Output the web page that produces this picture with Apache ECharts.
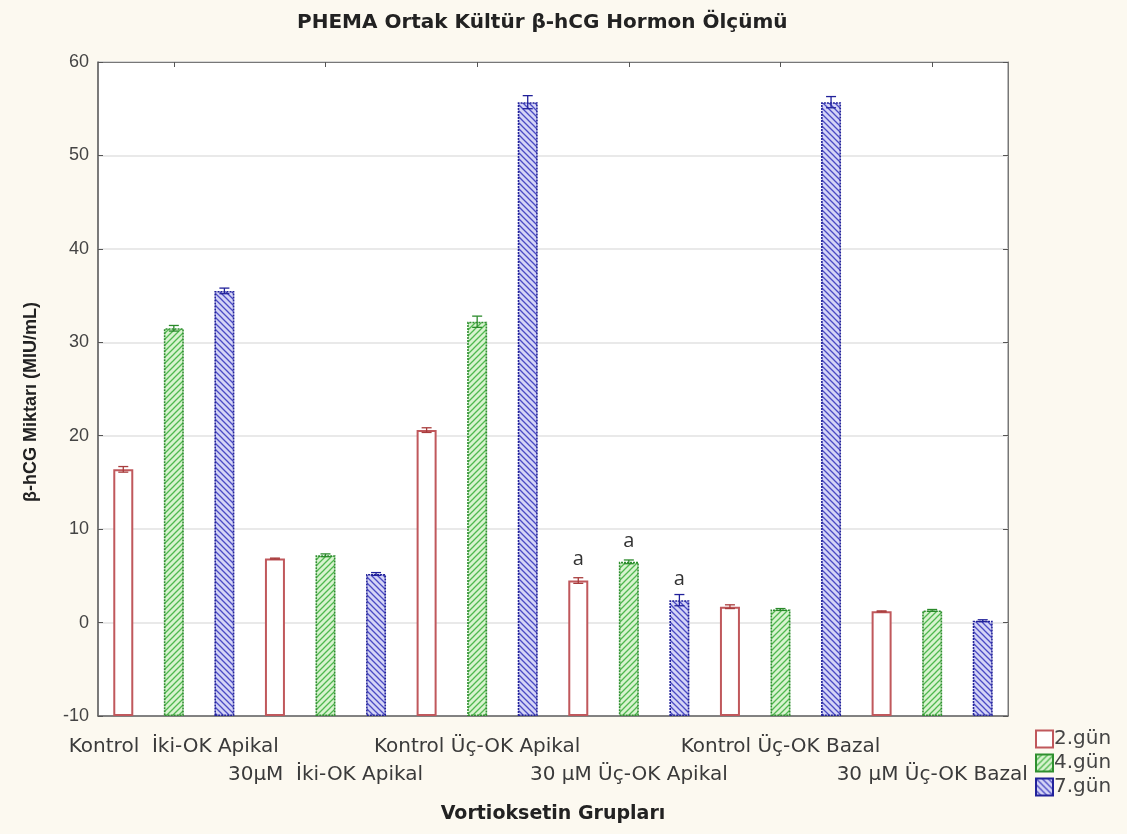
<!DOCTYPE html>
<html><head><meta charset="utf-8">
<script src="https://cdn.jsdelivr.net/npm/echarts@6/dist/echarts.min.js"></script>
<style>html,body{margin:0;padding:0;background:#fcf9f0;}#c{width:1127px;height:834px;}</style>
</head><body><div id="c"></div>
<script>
// ---- data ----
const groups = ['Kontrol  İki-OK Apikal', '30µM  İki-OK Apikal', 'Kontrol Üç-OK Apikal', '30 µM Üç-OK Apikal', 'Kontrol Üç-OK Bazal', '30 µM Üç-OK Bazal'];
const days = ['2.gün', '4.gün', '7.gün'];
const day2 = [16.4, 6.85, 20.6, 4.5, 1.7, 1.2];
const day4 = [31.5, 7.2, 32.2, 6.5, 1.4, 1.3];
const day7 = [35.5, 5.2, 55.7, 2.4, 55.7, 0.2];
const err2 = [0.3, 0.05, 0.25, 0.3, 0.2, 0.05];
const err4 = [0.3, 0.15, 0.6, 0.2, 0.1, 0.1];
const err7 = [0.3, 0.15, 0.7, 0.6, 0.6, 0.1];
const marks2 = ['', '', '', 'a', '', ''];
const marks4 = ['', '', '', 'a', '', ''];
const marks7 = ['', '', '', 'a', '', ''];
const yTicks = {min: -10, max: 60, interval: 10};

// ---- build ----
const slots = [];
groups.forEach((g) => days.forEach((d) => slots.push(g + ' ' + d)));

function pattern(bg, fg, dir) {
  const c = document.createElement('canvas');
  c.width = 6; c.height = 6;
  const x = c.getContext('2d');
  x.fillStyle = bg; x.fillRect(0, 0, 6, 6);
  x.strokeStyle = fg; x.lineWidth = 1.3;
  x.beginPath();
  if (dir > 0) { x.moveTo(-1, 7); x.lineTo(7, -1); x.moveTo(-4, 4); x.lineTo(4, -4); x.moveTo(2, 10); x.lineTo(10, 2); }
  else { x.moveTo(-1, -1); x.lineTo(7, 7); x.moveTo(-4, 2); x.lineTo(4, 10); x.moveTo(2, -4); x.lineTo(10, 4); }
  x.stroke();
  return c;
}

const styles = [
  {color: '#ffffff', borderColor: '#c0585c', borderWidth: 2, borderType: 'solid', err: '#a83c3c'},
  {color: {image: pattern('#d8f3cf', '#4fb84f', 1), repeat: 'repeat'}, borderColor: '#2f8f2f', borderWidth: 1.6, borderType: [2, 1], err: '#2a8a2a'},
  {color: {image: pattern('#d4d4f6', '#4a4ac4', -1), repeat: 'repeat'}, borderColor: '#22229a', borderWidth: 1.6, borderType: [2, 1], err: '#20209a'}
];
const vals = [day2, day4, day7];
const errs = [err2, err4, err7];
const marks = [marks2, marks4, marks7];

const series = [];
days.forEach((d, di) => {
  const data = slots.map((s, i) => {
    const g = Math.floor(i / 3);
    if (i % 3 !== di) return '-';
    const m = marks[di][g];
    return {
      value: vals[di][g],
      label: {show: m !== '', formatter: m, position: 'top', distance: 11, fontSize: 20, color: '#333', fontFamily: 'Open Sans'}
    };
  });
  series.push({
    name: d, type: 'bar', data: data, barWidth: 20, barGap: '-100%',
    itemStyle: {color: styles[di].color, borderColor: styles[di].borderColor, borderWidth: styles[di].borderWidth, borderType: styles[di].borderType},
    emphasis: {disabled: true}, z: 2
  });
  const edata = groups.map((g, gi) => [gi * 3 + di, vals[di][gi], errs[di][gi]]);
  series.push({
    type: 'custom', name: d + ' err', data: edata, z: 5, silent: true,
    renderItem: function (params, api) {
      const x = api.value(0), v = api.value(1), e = api.value(2);
      const hi = api.coord([x, v + e]), lo = api.coord([x, v - e]);
      const w = 5;
      return {type: 'group', children: [
        {type: 'line', shape: {x1: hi[0], y1: hi[1], x2: lo[0], y2: lo[1]}, style: {stroke: styles[di].err, lineWidth: 1.3}},
        {type: 'line', shape: {x1: hi[0] - w, y1: hi[1], x2: hi[0] + w, y2: hi[1]}, style: {stroke: styles[di].err, lineWidth: 1.3}},
        {type: 'line', shape: {x1: lo[0] - w, y1: lo[1], x2: lo[0] + w, y2: lo[1]}, style: {stroke: styles[di].err, lineWidth: 1.3}}
      ]};
    }
  });
});

const chart = echarts.init(document.getElementById('c'));
chart.setOption({
  backgroundColor: '#fcf9f0',
  animation: false,
  title: {text: 'PHEMA Ortak Kültür β-hCG Hormon Ölçümü', left: 292, top: 8,
    textStyle: {fontSize: 20, fontWeight: 'bold', color: '#222', fontFamily: 'DejaVu Sans'}},
  legend: {
    data: days, orient: 'vertical', left: 1030, top: 724, itemGap: 4, itemWidth: 17, itemHeight: 17,
    icon: 'rect', selectedMode: false,
    textStyle: {fontSize: 20, lineHeight: 18, color: '#444', fontFamily: 'DejaVu Sans', padding: [0, 0, 0, -4]}
  },
  grid: {left: 98, right: 119, top: 62, bottom: 118, show: true, backgroundColor: '#ffffff', borderColor: '#777', borderWidth: 1},
  xAxis: [{
    type: 'category', data: slots, boundaryGap: true,
    axisLine: {show: true, onZero: false, lineStyle: {color: '#666', width: 1.5}},
    axisTick: {show: true, inside: true, length: 5, interval: (i) => i % 3 === 1, alignWithLabel: true, lineStyle: {color: '#555'}},
    axisLabel: {
      interval: 0, margin: 17, lineHeight: 28, fontSize: 20, color: '#3a3a3a', fontFamily: 'DejaVu Sans',
      formatter: function (v, i) {
        if (i % 3 !== 1) return '';
        const g = Math.floor(i / 3);
        return (g % 2 === 0 ? '' : '\n') + groups[g];
      }
    },
    name: 'Vortioksetin Grupları', nameLocation: 'middle', nameGap: 89,
    nameTextStyle: {fontSize: 19, fontWeight: 'bold', color: '#222', fontFamily: 'DejaVu Sans'}
  }, {
    type: 'category', data: slots, position: 'top', boundaryGap: true,
    axisLine: {show: true, onZero: false, lineStyle: {color: '#777'}},
    axisTick: {show: true, inside: true, length: 5, interval: (i) => i % 3 === 1, alignWithLabel: true, lineStyle: {color: '#555'}},
    axisLabel: {show: false}
  }],
  yAxis: [{
    type: 'value', min: yTicks.min, max: yTicks.max, interval: yTicks.interval, startValue: yTicks.min,
    axisLine: {show: true, onZero: false, lineStyle: {color: '#666', width: 1.5}},
    axisTick: {show: true, inside: true, length: 5, lineStyle: {color: '#555'}},
    axisLabel: {fontSize: 18, color: '#444', margin: 9, fontFamily: 'Liberation Sans'},
    splitLine: {show: true, lineStyle: {color: '#e2e2e2', width: 1.5}},
    name: 'β-hCG Miktarı (MIU/mL)', nameLocation: 'middle', nameGap: 58, nameRotate: 90,
    nameTextStyle: {fontSize: 18, fontWeight: 'bold', color: '#222', fontFamily: 'Liberation Sans', padding: [0, 26, 0, 0]}
  }, {
    type: 'value', min: yTicks.min, max: yTicks.max, interval: yTicks.interval, position: 'right',
    axisLine: {show: true, onZero: false, lineStyle: {color: '#777'}},
    axisTick: {show: true, inside: true, length: 5, lineStyle: {color: '#555'}},
    axisLabel: {show: false}, splitLine: {show: false}
  }],
  series: series
});
</script></body></html>
